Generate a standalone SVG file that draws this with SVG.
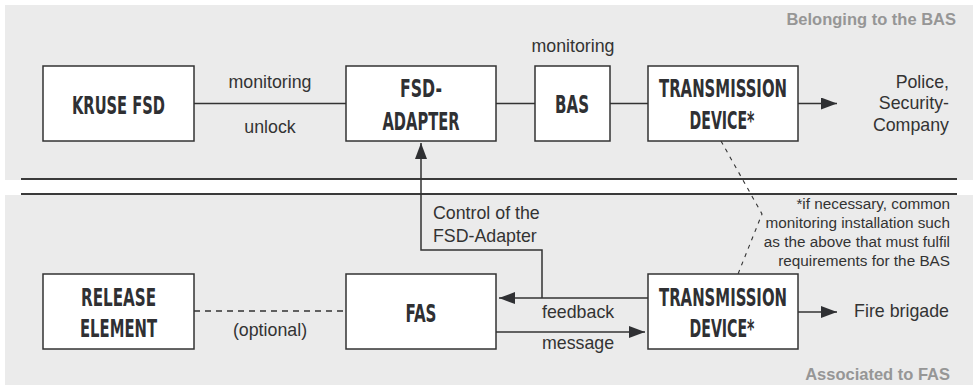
<svg xmlns="http://www.w3.org/2000/svg" width="973" height="385" viewBox="0 0 973 385">
<defs>
<style>
.panel{fill:#ebebeb}
.sep{stroke:#3a3a3a;stroke-width:2;fill:none}
.box{fill:#ffffff;stroke:#333333;stroke-width:1.5}
.lbl{font-family:"Liberation Sans Narrow","DejaVu Sans Condensed","Liberation Sans",sans-serif;font-weight:bold;font-size:25px;fill:#2f3033;text-anchor:middle}
.t{font-family:"Liberation Sans",Arial,sans-serif;font-size:17.8px;fill:#333333}
.fn{font-family:"Liberation Sans",Arial,sans-serif;font-size:15.3px;fill:#333333;text-anchor:end}
.zone{font-family:"Liberation Sans",Arial,sans-serif;font-weight:bold;font-size:16.5px;fill:#969696;text-anchor:end}
.ln{stroke:#333333;stroke-width:1.5;fill:none}
.dash{stroke:#333333;stroke-width:1.3;fill:none;stroke-dasharray:6 5}
.dash2{stroke:#333333;stroke-width:1.1;fill:none;stroke-dasharray:4 5}
</style>
<marker id="ah" viewBox="0 0 16 12" refX="16" refY="6" markerWidth="16" markerHeight="12" markerUnits="userSpaceOnUse" orient="auto">
<path d="M0,0 L16,6 L0,12 Z" fill="#2f3033"/>
</marker>
</defs>
<rect class="panel" x="5" y="5" width="968" height="175"/>
<rect class="panel" x="5" y="195" width="968" height="190"/>
<line class="sep" x1="21" y1="179" x2="957" y2="179"/>
<line class="sep" x1="21" y1="194" x2="957" y2="194"/>
<text class="zone" x="956" y="25">Belonging to the BAS</text>
<text class="zone" x="950" y="380">Associated to FAS</text>
<g id="connectors">
<line class="ln" x1="194" y1="103.5" x2="346" y2="103.5"/>
<line class="ln" x1="496" y1="103.5" x2="535" y2="103.5"/>
<line class="ln" x1="610" y1="103.5" x2="648" y2="103.5"/>
<line class="ln" x1="798" y1="103.5" x2="837" y2="103.5" marker-end="url(#ah)"/>
<path class="ln" d="M542,298 L542,250 L421,250 L421,143" marker-end="url(#ah)"/>
<line class="ln" x1="648" y1="298" x2="499" y2="298" marker-end="url(#ah)"/>
<line class="ln" x1="496" y1="332" x2="645" y2="332" marker-end="url(#ah)"/>
<line class="ln" x1="798" y1="312" x2="837" y2="312" marker-end="url(#ah)"/>
<line class="dash" x1="194" y1="311" x2="346" y2="311"/>
<path class="dash2" d="M721,141 L762,214 L738,274"/>
<text class="t" x="270" y="88" text-anchor="middle">monitoring</text>
<text class="t" x="270" y="133" text-anchor="middle">unlock</text>
<text class="t" x="573" y="52" text-anchor="middle">monitoring</text>
<text class="t" x="433" y="219">Control of the</text>
<text class="t" x="433" y="242">FSD-Adapter</text>
<text class="t" x="542" y="318">feedback</text>
<text class="t" x="542" y="349">message</text>
<text class="t" x="270" y="336" text-anchor="middle">(optional)</text>
</g>
<g id="kruse-fsd">
<rect class="box" x="43" y="66" width="151" height="75"/>
<text class="lbl" x="118.5" y="114" textLength="93" lengthAdjust="spacingAndGlyphs">KRUSE FSD</text>
</g>
<g id="fsd-adapter">
<rect class="box" x="346" y="66" width="150" height="75"/>
<text class="lbl" x="421" y="97" textLength="42" lengthAdjust="spacingAndGlyphs">FSD-</text>
<text class="lbl" x="421" y="130" textLength="77" lengthAdjust="spacingAndGlyphs">ADAPTER</text>
</g>
<g id="bas">
<rect class="box" x="535" y="66" width="75" height="75"/>
<text class="lbl" x="572" y="113" textLength="34" lengthAdjust="spacingAndGlyphs">BAS</text>
</g>
<g id="transmission-top">
<rect class="box" x="648" y="66" width="150" height="75"/>
<text class="lbl" x="723" y="97" textLength="128" lengthAdjust="spacingAndGlyphs">TRANSMISSION</text>
<text class="lbl" x="722" y="129" textLength="65" lengthAdjust="spacingAndGlyphs">DEVICE*</text>
</g>
<g id="police">
<text class="t" x="949" y="88" text-anchor="end">Police,</text>
<text class="t" x="949" y="109" text-anchor="end">Security-</text>
<text class="t" x="949" y="131" text-anchor="end">Company</text>
</g>
<g id="release-element">
<rect class="box" x="43" y="274" width="151" height="75"/>
<text class="lbl" x="118.5" y="306" textLength="75" lengthAdjust="spacingAndGlyphs">RELEASE</text>
<text class="lbl" x="118.5" y="337" textLength="77" lengthAdjust="spacingAndGlyphs">ELEMENT</text>
</g>
<g id="fas">
<rect class="box" x="346" y="274" width="150" height="75"/>
<text class="lbl" x="421" y="322" textLength="31" lengthAdjust="spacingAndGlyphs">FAS</text>
</g>
<g id="transmission-bottom">
<rect class="box" x="648" y="274" width="150" height="75"/>
<text class="lbl" x="723" y="306" textLength="128" lengthAdjust="spacingAndGlyphs">TRANSMISSION</text>
<text class="lbl" x="722" y="337" textLength="65" lengthAdjust="spacingAndGlyphs">DEVICE*</text>
</g>
<g id="fire-brigade">
<text class="t" x="949" y="317" text-anchor="end">Fire brigade</text>
</g>
<g id="footnote">
<text class="fn" x="950" y="209">*if necessary, common</text>
<text class="fn" x="950" y="228">monitoring installation such</text>
<text class="fn" x="950" y="247">as the above that must fulfil</text>
<text class="fn" x="950" y="266">requirements for the BAS</text>
</g>
</svg>
